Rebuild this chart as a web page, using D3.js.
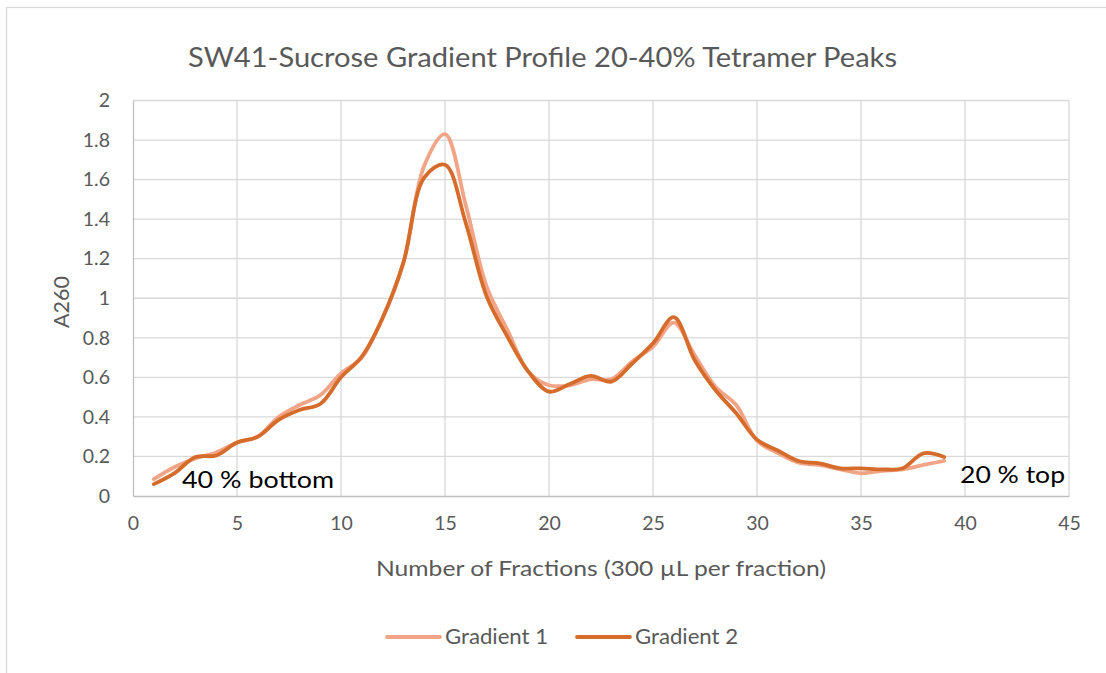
<!DOCTYPE html>
<html>
<head>
<meta charset="utf-8">
<script src="https://cdn.jsdelivr.net/npm/d3@7"></script>
<style>
  html, body { margin: 0; padding: 0; background: #fff; }
  svg { display: block; }
</style>
</head>
<body>
<svg id="chart" width="1106" height="673"></svg>
<script>
// Fraction numbers (1 = bottom of tube, 39 = top)
const fractions = d3.range(1, 40);

// A260 readings per fraction
const gradient1 = [0.085, 0.147, 0.19, 0.22, 0.27, 0.30, 0.40, 0.46, 0.51, 0.62,
                   0.70, 0.90, 1.18, 1.67, 1.83, 1.47, 1.06, 0.84, 0.63, 0.56,
                   0.56, 0.59, 0.59, 0.68, 0.755, 0.877, 0.713, 0.553, 0.46, 0.28,
                   0.217, 0.168, 0.157, 0.135, 0.115, 0.127, 0.135, 0.157, 0.178];
const gradient2 = [0.06, 0.116, 0.197, 0.205, 0.27, 0.30, 0.385, 0.435, 0.465, 0.60,
                   0.705, 0.90, 1.18, 1.61, 1.675, 1.38, 1.01, 0.806, 0.63, 0.528,
                   0.566, 0.607, 0.578, 0.67, 0.772, 0.904, 0.688, 0.536, 0.418, 0.285,
                   0.23, 0.177, 0.165, 0.14, 0.14, 0.135, 0.14, 0.216, 0.197];

const seriesNames = ["Gradient 1", "Gradient 2"];
const seriesColors = ["#F2A486", "#D56C2C"];
const xTicks = d3.range(0, 46, 5);
const yTicks = d3.range(0, 2.01, 0.2).map(v => +v.toFixed(1));

const svg = d3.select("#chart");
const font = "Lato, 'Open Sans', sans-serif";
const textGrey = "#595959";

// outer chart frame
svg.append("rect")
  .attr("x", 6.5).attr("y", 7.5)
  .attr("width", 1120).attr("height", 700)
  .attr("fill", "#fff").attr("stroke", "#d9d9d9").attr("stroke-width", 1.3);

const plot = { left: 133, right: 1069, top: 100.5, bottom: 496 };

const x = d3.scaleLinear().domain([0, 45]).range([plot.left, plot.right]);
const y = d3.scaleLinear().domain([0, 2]).range([plot.bottom, plot.top]);

// gridlines
svg.append("g").selectAll("line.h").data(yTicks.filter(v => v > 0)).join("line")
  .attr("x1", plot.left).attr("x2", plot.right)
  .attr("y1", d => y(d)).attr("y2", d => y(d))
  .attr("stroke", "#d9d9d9").attr("stroke-width", 1.3);
svg.append("g").selectAll("line.v").data(xTicks.filter(v => v > 0)).join("line")
  .attr("x1", d => x(d)).attr("x2", d => x(d))
  .attr("y1", plot.top).attr("y2", plot.bottom)
  .attr("stroke", "#d9d9d9").attr("stroke-width", 1.3);

// axes
const xAxis = svg.append("g")
  .attr("transform", `translate(0,${plot.bottom})`)
  .call(d3.axisBottom(x).tickValues(xTicks).tickSize(0).tickPadding(20));
const yAxis = svg.append("g")
  .attr("transform", `translate(${plot.left},0)`)
  .call(d3.axisLeft(y).tickValues(yTicks).tickSize(0).tickPadding(23)
        .tickFormat(d => d3.format("")(d)));
[xAxis, yAxis].forEach(g => {
  g.select(".domain").attr("stroke", "#bfbfbf").attr("stroke-width", 1.3);
  g.selectAll("text").attr("font-family", font).attr("font-size", 19.5).attr("fill", textGrey);
});

// series
const line = d3.line()
  .x((d, i) => x(fractions[i]))
  .y(d => y(d))
  .curve(d3.curveCatmullRom.alpha(0.5));

[gradient1, gradient2].forEach((data, k) => {
  svg.append("path")
    .datum(data)
    .attr("d", line)
    .attr("fill", "none")
    .attr("stroke", seriesColors[k])
    .attr("stroke-width", 3.8)
    .attr("stroke-linejoin", "round")
    .attr("stroke-linecap", "round");
});

// title
svg.append("text")
  .attr("x", 188).attr("y", 67)
  .attr("font-family", font).attr("font-size", 26)
  .attr("textLength", 709).attr("lengthAdjust", "spacingAndGlyphs")
  .attr("fill", textGrey)
  .text("SW41-Sucrose Gradient Profile 20-40% Tetramer Peaks");

// axis titles
svg.append("text")
  .attr("x", 376).attr("y", 576)
  .attr("font-family", font).attr("font-size", 21.5)
  .attr("textLength", 450).attr("lengthAdjust", "spacingAndGlyphs")
  .attr("fill", textGrey)
  .text("Number of Fractions (300 µL per fraction)");
svg.append("text")
  .attr("transform", "translate(69,302) rotate(-90)")
  .attr("text-anchor", "middle")
  .attr("font-family", font).attr("font-size", 21.5)
  .attr("fill", textGrey)
  .text("A260");

// tube-end annotations
svg.append("text")
  .attr("x", 182).attr("y", 488)
  .attr("font-family", font).attr("font-size", 24)
  .attr("textLength", 152).attr("lengthAdjust", "spacingAndGlyphs")
  .attr("fill", "#000")
  .text("40 % bottom");
svg.append("text")
  .attr("x", 960).attr("y", 483)
  .attr("font-family", font).attr("font-size", 24)
  .attr("textLength", 105).attr("lengthAdjust", "spacingAndGlyphs")
  .attr("fill", "#000")
  .text("20 % top");

// legend
const legendX = [387, 577];
seriesNames.forEach((name, k) => {
  const g = svg.append("g").attr("transform", `translate(${legendX[k]},637)`);
  g.append("line")
    .attr("x1", 0).attr("x2", 53).attr("y1", 0).attr("y2", 0)
    .attr("stroke", seriesColors[k]).attr("stroke-width", 3.8)
    .attr("stroke-linecap", "round");
  g.append("text")
    .attr("x", 58).attr("y", 7)
    .attr("font-family", font).attr("font-size", 20.5)
    .attr("textLength", 103).attr("lengthAdjust", "spacingAndGlyphs")
    .attr("fill", textGrey)
    .text(name);
});
</script>
</body>
</html>
